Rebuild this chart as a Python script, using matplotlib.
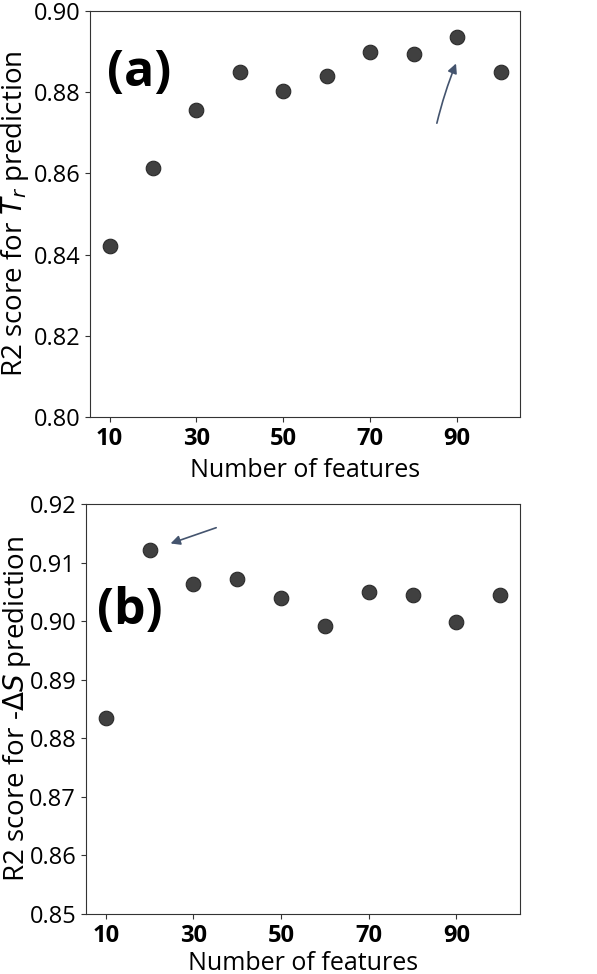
import matplotlib
matplotlib.use("Agg")
import matplotlib.pyplot as plt

plt.rcParams['font.family'] = ['Open Sans', 'DejaVu Sans']

n_features = [10, 20, 30, 40, 50, 60, 70, 80, 90, 100]
r2_tr = [0.8420, 0.8614, 0.8756, 0.8849, 0.8804, 0.8840, 0.8900, 0.8893, 0.8935, 0.8849]
r2_ds = [0.8834, 0.9121, 0.9064, 0.9072, 0.9040, 0.8991, 0.9050, 0.9044, 0.8998, 0.9045]
xticks = [10, 30, 50, 70, 90]
yticks_a = [0.80, 0.82, 0.84, 0.86, 0.88, 0.90]
yticks_b = [0.85, 0.86, 0.87, 0.88, 0.89, 0.90, 0.91, 0.92]

dot_color = "#404040"
arrow_color = "#44546e"

fig = plt.figure(figsize=(5.97, 9.74), dpi=100)
ax1 = fig.add_axes([0.1508, 0.5719, 0.7203, 0.4168])
ax2 = fig.add_axes([0.1440, 0.0616, 0.7270, 0.4210])

def style(ax, yticks, ylabel, ylab_x, xpad):
    ax.set_xticks(xticks)
    ax.set_yticks(yticks)
    ax.set_ylim(yticks[0], yticks[-1])
    ax.set_xticklabels([str(t) for t in xticks], fontsize=17, fontweight='bold')
    ax.set_yticklabels(["%.2f" % t for t in yticks], fontsize=17)
    ax.set_xlabel("Number of features", fontsize=18, labelpad=xpad)
    ax.set_ylabel(ylabel, fontsize=20)
    ax.yaxis.set_label_coords(ylab_x, 0.5)
    for s in ax.spines.values():
        s.set_color("#333333")
    ax.tick_params(colors="#333333", labelcolor="black")

ax1.scatter(n_features, r2_tr, s=110, color=dot_color, edgecolor="#2a2a2a", linewidth=0.8, zorder=3)
style(ax1, yticks_a, r"R2 score for $T_r$ prediction", -0.137, 5)
ax1.text(9.5, 0.8847, "(a)", fontsize=36, fontweight='bold', va='center', ha='left')
ax1.annotate("", xy=(90, 0.8877), xytext=(85.2, 0.8717),
             arrowprops=dict(arrowstyle="-|>", color=arrow_color, lw=1.2,
                             mutation_scale=14, connectionstyle="arc3,rad=-0.04"))

ax2.scatter(n_features, r2_ds, s=110, color=dot_color, edgecolor="#2a2a2a", linewidth=0.8, zorder=3)
style(ax2, yticks_b, r"R2 score for -$\Delta S$ prediction", -0.122, 2)
ax2.text(8.0, 0.9017, "(b)", fontsize=36, fontweight='bold', va='center', ha='left')
ax2.annotate("", xy=(24.2, 0.9131), xytext=(35.8, 0.9161),
             arrowprops=dict(arrowstyle="-|>", color=arrow_color, lw=1.2, mutation_scale=14))

fig.savefig("out.png", dpi=100)
